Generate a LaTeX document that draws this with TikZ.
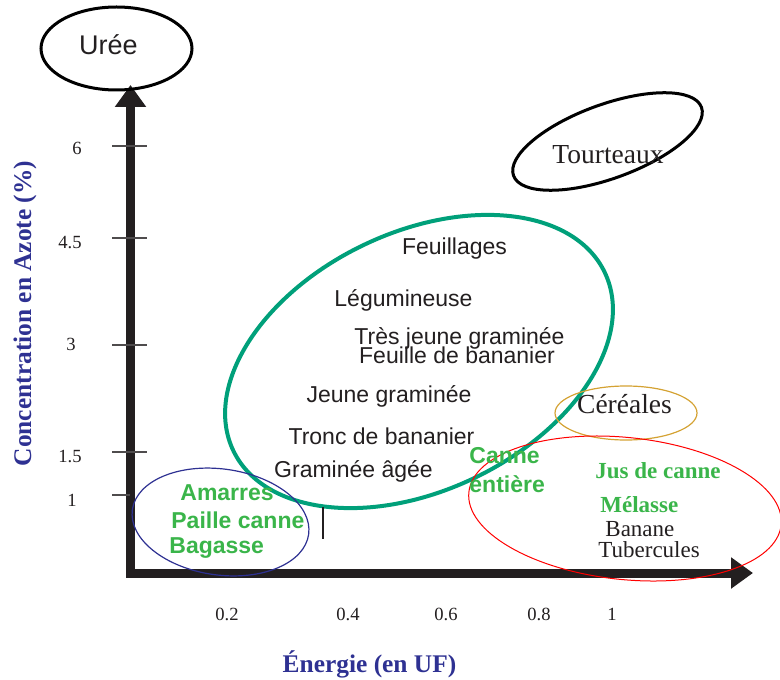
\documentclass[tikz,border=0pt]{standalone}
\usepackage{fontspec}
\setmainfont{Liberation Serif}
\setsansfont{Liberation Sans}
\usepackage{tikz}
\usetikzlibrary{arrows.meta,shapes.geometric}

\definecolor{ink}{HTML}{231F20}
\definecolor{titleblue}{HTML}{2E3192}
\definecolor{leafgreen}{HTML}{3AB54A}
\definecolor{ringgreen}{HTML}{00A07A}
\definecolor{ringgold}{HTML}{D4A233}

\begin{document}
\begin{tikzpicture}[
                x=0.5pt, y=-0.5pt,
                ring/.style={ellipse,draw,inner sep=0pt},
                lbl/.style={anchor=base,inner sep=0pt,text=ink,font=\sffamily\fontsize{11.5}{13}\selectfont},
                greenlbl/.style={anchor=base west,inner sep=0pt,text=leafgreen,font=\sffamily\bfseries\fontsize{11.5}{13}\selectfont},
                seriflbl/.style={anchor=base,inner sep=0pt,text=ink,font=\fontsize{13.75}{16}\selectfont},
                num/.style={anchor=base,inner sep=0pt,text=ink,font=\fontsize{9.3}{11}\selectfont},
                axtitle/.style={anchor=base,inner sep=0pt,text=titleblue,font=\bfseries\fontsize{12.7}{15}\selectfont},
                tick/.style={draw=ink!80,line width=0.7pt}
            ]
                \useasboundingbox (0,0) rectangle (780,679);

                % axes
                \coordinate (O)    at (130.5,573);
                \coordinate (ytip) at (130.5,85);
                \coordinate (xtip) at (753,573);
                \draw[line width=4.5pt,ink,{Triangle[length=11pt,width=15pt]}-{Triangle[length=11pt,width=15pt]}]
                    (ytip) -- (O) -- (xtip);

                \draw[tick] (112,146) -- (147,146);
                \draw[tick] (112,238) -- (147,238);
                \draw[tick] (112,345) -- (147,345);
                \draw[tick] (112,452) -- (147,452);
                \draw[tick] (112,495) -- (130,495);

                \node[num] (n6)  at (77,155) {6};
                \node[num] (n45) at (70,248) {4.5};
                \node[num] (n3)  at (71,350) {3};
                \node[num] (n15) at (70,462) {1.5};
                \node[num] (n1)  at (72,506) {1};

                \node[num] (e02) at (227,620) {0.2};
                \node[num] (e04) at (348,620) {0.4};
                \node[num] (e06) at (446,620) {0.6};
                \node[num] (e08) at (539,620) {0.8};
                \node[num] (e1)  at (612,620) {1};

                \node[axtitle] (xtitle) at (369.5,672) {Énergie (en UF)};
                \node[axtitle,rotate=90] (ytitle) at (31,313.5) {Concentration en Azote (\%)};

                % groups
                \node[ring,line width=1.5pt,minimum width=75.5pt,minimum height=41.5pt] (uree) at (116.5,48.5) {};
                \node[ring,line width=1.5pt,minimum width=100pt,minimum height=37pt,rotate=20] (tourteaux) at (607.5,141.5) {};
                \node[ring,draw=ringgreen,line width=2pt,minimum width=206pt,minimum height=129pt,rotate=25.7] (fourrages) at (419,361.5) {};
                \node[ring,draw=ringgold,line width=0.6pt,minimum width=71pt,minimum height=27pt] (cereales) at (626,413) {};
                \node[ring,draw=red,line width=0.5pt,minimum width=157pt,minimum height=71pt,rotate=-6] (energie) at (625,508.5) {};
                \node[ring,draw=titleblue,line width=0.6pt,minimum width=89pt,minimum height=53pt,rotate=-8] (residus) at (220.5,522) {};

                \coordinate (marktop) at (323,507);
                \coordinate (markbot) at (323,539);
                \draw[ink,line width=0.6pt] (marktop) -- (markbot);

                % labels
                \node[lbl,font=\sffamily\fontsize{13.5}{16}\selectfont] (ureetxt) at (108.5,55) {Urée};
                \node[seriflbl] (tourteauxtxt) at (608,163) {Tourteaux};
                \node[seriflbl] (cerealestxt) at (624.5,413) {Céréales};

                \node[lbl] (feuillages)  at (454.5,254) {Feuillages};
                \node[lbl] (legumineuse) at (403.5,306) {Légumineuse};
                \node[lbl] (tresjeune)   at (459.5,344) {Très jeune graminée};
                \node[lbl] (feuillebn)   at (457,363)   {Feuille de bananier};
                \node[lbl] (jeune)       at (389,402)   {Jeune graminée};
                \node[lbl] (troncbn)     at (381.5,444) {Tronc de bananier};
                \node[lbl] (agee)        at (353.5,477) {Graminée âgée};

                \node[greenlbl] (canne)   at (469,463) {Canne};
                \node[greenlbl] (entiere) at (469,492) {entière};

                \node[greenlbl] (amarres) at (180,500) {Amarres};
                \node[greenlbl] (paille)  at (171,528) {Paille canne};
                \node[greenlbl] (bagasse) at (169,553) {Bagasse};

                \node[greenlbl,font=\bfseries\fontsize{11.5}{13}\selectfont] (jus)     at (595,478) {Jus de canne};
                \node[greenlbl,font=\bfseries\fontsize{11.5}{13}\selectfont] (melasse) at (600,512) {Mélasse};
                \node[greenlbl,text=ink,font=\fontsize{11.5}{13}\selectfont] (banane)     at (605,536) {Banane};
                \node[greenlbl,text=ink,font=\fontsize{11.5}{13}\selectfont] (tubercules) at (598,557) {Tubercules};
            \end{tikzpicture}
\end{document}
